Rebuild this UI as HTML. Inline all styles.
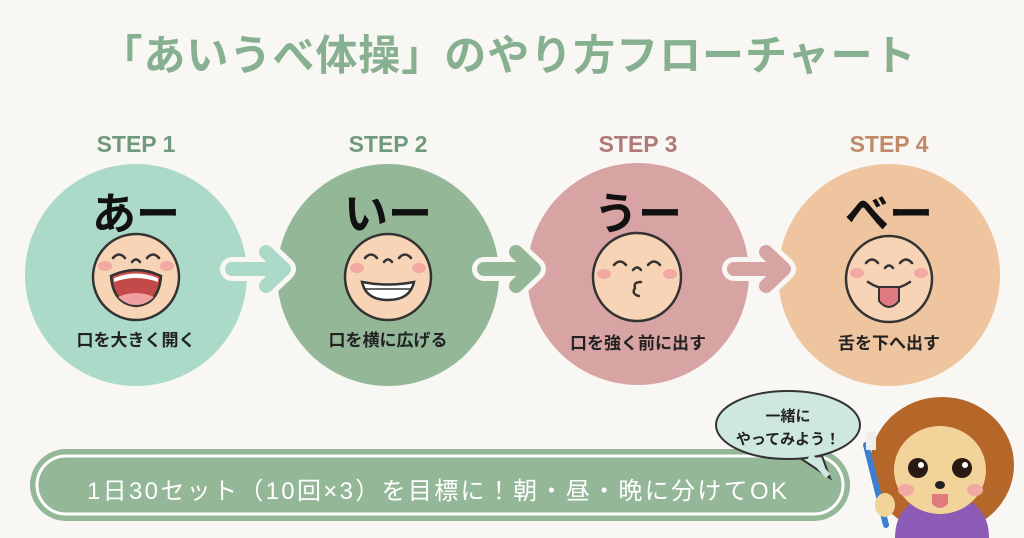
<!DOCTYPE html>
<html><head><meta charset="utf-8"><style>
body{margin:0;background:#f8f7f3;}
svg{display:block}
text{font-family:"Liberation Sans","Noto Sans CJK JP",sans-serif;font-weight:bold}
</style></head><body>
<svg width="1024" height="538" viewBox="0 0 1024 538">
<rect width="1024" height="538" fill="#f8f7f3"/>
<text x="508" y="70" text-anchor="middle" font-size="42" fill="#86b08f" textLength="815">「あいうべ体操」のやり方フローチャート</text>
<g font-size="23" text-anchor="middle">
<text x="136" y="152" fill="#6f9a7d">STEP 1</text>
<text x="388" y="152" fill="#6f9a7d">STEP 2</text>
<text x="638" y="152" fill="#b07a78">STEP 3</text>
<text x="889" y="152" fill="#c08a68">STEP 4</text>
</g>
<circle cx="136" cy="275" r="111" fill="#acdac8"/>
<circle cx="388" cy="275" r="111" fill="#93b797"/>
<circle cx="638" cy="274" r="111" fill="#d7a3a3"/>
<circle cx="889" cy="275" r="111" fill="#efc59f"/>
<g stroke-linecap="round" stroke-linejoin="round" fill="none">
<g stroke="#f8f7f3" stroke-width="24"><path d="M232 269H283M266 252L284 269L266 286"/><path d="M484 269H533M516 252L534 269L516 286"/><path d="M734 269H783M766 252L784 269L766 286"/></g>
<g stroke="#acdac8" stroke-width="14"><path d="M232 269H283M266 252L284 269L266 286"/></g>
<g stroke="#93b797" stroke-width="14"><path d="M484 269H533M516 252L534 269L516 286"/></g>
<g stroke="#d7a3a3" stroke-width="14"><path d="M734 269H783M766 252L784 269L766 286"/></g>
</g>
<g font-size="44" text-anchor="middle" fill="#111">
<text x="136" y="229">あー</text><text x="388" y="229">いー</text><text x="638" y="229">うー</text><text x="889" y="229">べー</text>
</g>
<g font-size="17" text-anchor="middle" fill="#222">
<text x="136" y="346">口を大きく開く</text><text x="388" y="346">口を横に広げる</text><text x="638" y="349">口を強く前に出す</text><text x="889" y="349">舌を下へ出す</text>
</g>
<g stroke="#333" stroke-width="2.5">
<circle cx="136" cy="277" r="43" fill="#f8d4b6"/>
<circle cx="388" cy="277" r="43" fill="#f8d4b6"/>
<circle cx="637" cy="277" r="44" fill="#f8d4b6"/>
<circle cx="889" cy="279" r="43" fill="#f8d4b6"/>
</g>
<g fill="#f2a9a4"><ellipse cx="105" cy="266" rx="7" ry="5"/><ellipse cx="167" cy="266" rx="7" ry="5"/><ellipse cx="357" cy="268" rx="7" ry="5"/><ellipse cx="419" cy="268" rx="7" ry="5"/><ellipse cx="604" cy="274" rx="7" ry="5"/><ellipse cx="670" cy="274" rx="7" ry="5"/><ellipse cx="857" cy="273" rx="7" ry="5"/><ellipse cx="921" cy="273" rx="7" ry="5"/></g>
<g stroke="#333" stroke-width="2.5" fill="none" stroke-linecap="round">
<path d="M113 258q6-7 12 0M147 258q6-7 12 0M132 262q4-5 8 0"/>
<path d="M365 258q6-7 12 0M399 258q6-7 12 0M384 262q4-5 8 0"/>
<path d="M614 265q6-7 12 0M648 265q6-7 12 0M633 270q4-5 8 0M641 282q-8 0-6 6q-4 6 4 8"/>
<path d="M866 263q6-7 12 0M900 263q6-7 12 0M885 268q4-5 8 0M868 282q21 14 42 0"/>
</g>
<path d="M111 276q25-12 50 0q-2 28-25 30q-23-2-25-30z" fill="#c44a4a" stroke="#333" stroke-width="2.5"/>
<path d="M114 278q22-9 44 0v4q-22-8-44 0z" fill="#fff"/>
<path d="M118 297q18-8 36 0q-8 8-18 8q-10 0-18-8z" fill="#f0a0a0"/>
<path d="M362 282q26 5 52 0q-4 18-26 18q-22 0-26-18z" fill="#fff" stroke="#333" stroke-width="2.5"/>
<path d="M364 289h48" stroke="#333" stroke-width="1.5"/>
<path d="M879 287h20v14q-10 12-20 0z" fill="#e07a80" stroke="#333" stroke-width="2"/>
<rect x="30" y="449" width="820" height="72" rx="36" fill="#93b797"/>
<rect x="37" y="456" width="806" height="58" rx="29" fill="none" stroke="#fff" stroke-width="3"/>
<text x="437" y="499" text-anchor="middle" font-size="24" fill="#fff" style="font-weight:normal" textLength="700">1日30セット（10回×3）を目標に！朝・昼・晩に分けてOK</text>
<path d="M800 458l30 20-8-22z" fill="#cfe8df" stroke="#333" stroke-width="2"/>
<ellipse cx="788" cy="425" rx="72" ry="34" fill="#cfe8df" stroke="#333" stroke-width="2"/>
<path d="M810 456l18 20" stroke="#cfe8df" stroke-width="6"/>
<text x="788" y="421" text-anchor="middle" font-size="15" fill="#222">一緒に</text>
<text x="788" y="444" text-anchor="middle" font-size="15" fill="#222">やってみよう！</text>
<ellipse cx="942" cy="465" rx="72" ry="68" fill="#b5672a"/>
<path d="M895 538q0-40 47-45q47 5 47 45z" fill="#8b5bb5"/>
<ellipse cx="940" cy="470" rx="46" ry="44" fill="#f2d49a"/>
<circle cx="918" cy="468" r="10" fill="#2a1a12"/><circle cx="962" cy="468" r="10" fill="#2a1a12"/>
<circle cx="921" cy="465" r="3" fill="#fff"/><circle cx="965" cy="465" r="3" fill="#fff"/>
<ellipse cx="940" cy="485" rx="5" ry="4" fill="#222"/>
<path d="M932 494h16v10q-8 8-16 0z" fill="#e07a80"/>
<ellipse cx="906" cy="490" rx="8" ry="6" fill="#f2a9a4"/><ellipse cx="975" cy="490" rx="8" ry="6" fill="#f2a9a4"/>
<path d="M866 445l20 80" stroke="#3b7fd0" stroke-width="6" stroke-linecap="round"/>
<rect x="866" y="432" width="10" height="18" fill="#eee"/>
<ellipse cx="885" cy="505" rx="10" ry="12" fill="#f2d49a"/>
</svg>
</body></html>
